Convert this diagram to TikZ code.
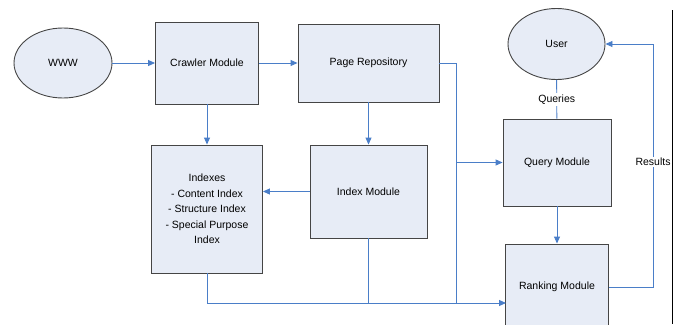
\documentclass[tikz,border=0pt]{standalone}
\usepackage{fontspec}
\setmainfont{Liberation Sans}
\usetikzlibrary{arrows.meta,shapes.geometric}
\definecolor{boxfill}{HTML}{E7ECF6}
\definecolor{boxline}{HTML}{454545}
\definecolor{linkblue}{HTML}{4A7EC8}

\tikzset{
  module/.style={draw=boxline, line width=0.9pt, fill=boxfill, align=center,
    font=\fontsize{10.5}{15.5}\selectfont, inner sep=2pt},
  agent/.style={module, ellipse},
  wire/.style={draw=linkblue, line width=0.9pt},
  link/.style={wire, -{Triangle[length=7pt,width=6pt]}},
  tag/.style={fill=white, inner sep=1.5pt, font=\fontsize{10.5}{12}\selectfont},
}

\begin{document}
\begin{tikzpicture}[x=1pt,y=-1pt]
    \useasboundingbox (0,0) rectangle (682,324);
    \clip (0,0) rectangle (682,324);
    \node[agent, minimum width=98, minimum height=70] (www) at (63,63) {WWW};
    \node[module, minimum width=103, minimum height=82] (crawler) at (207,63) {Crawler Module};
    \node[module, minimum width=141, minimum height=78] (repo) at (368.5,63) {Page Repository};
    \node[agent, minimum width=97, minimum height=71] (user) at (556.5,44) {User};
    \node[module, minimum width=111, minimum height=128] (indexes) at (207,209)
      {Indexes\\- Content Index\\- Structure Index\\- Special Purpose\\Index};
    \node[module, minimum width=117, minimum height=93] (indexer) at (368.5,191.5) {Index Module};
    \node[module, minimum width=108, minimum height=87] (query) at (557,162.5) {Query Module};
    \node[module, minimum width=103, minimum height=86] (ranking) at (557,287) {Ranking Module};
    \coordinate (split) at (456,162.5);
    \coordinate (merge) at (456,303);
    \coordinate (rankin) at (506,303);
    \coordinate (ret) at (653,44);
    % crawling side
    \draw[link] (www) -- (crawler);
    \draw[link] (crawler) -- (repo);
    \draw[link] (crawler) -- (indexes);
    \draw[link] (repo) -- (indexer);
    \draw[link] (indexer.west) -- (indexer.west -| indexes.east);
    % query side
    \draw[link] (repo.east) -| (split) -- (query);
    \draw[wire] (split) -- (merge);
    \draw[link] (indexes.south) |- (rankin);
    \draw[wire] (indexer.south) -- (indexer.south |- merge);
    \draw[wire] (user) -- node[tag] (queries) {Queries} (query);
    \draw[link] (query) -- (ranking);
    \draw[link] (ranking.east) -| (ret) -- (user.east);
    \node[tag] (results) at (653,162) {Results};
    \draw[black, line width=0.8pt] (672,10) -- (672,324);
\end{tikzpicture}
\end{document}
